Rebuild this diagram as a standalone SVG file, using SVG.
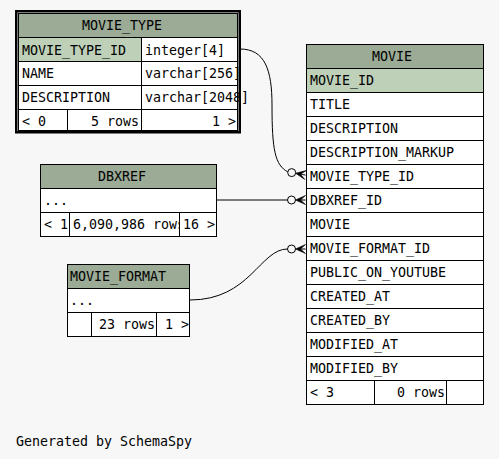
<svg xmlns="http://www.w3.org/2000/svg" width="499" height="459" viewBox="0 0 499 459">
<style>
text{font-family:"DejaVu Sans Mono","Liberation Mono",monospace;font-size:13.3px;fill:#000}
.c{fill:#fff;stroke:#000;stroke-width:1}
.h{fill:#9bab96;stroke:#000;stroke-width:1}
.k{fill:#bed1b8;stroke:#000;stroke-width:1}
.e{fill:none;stroke:#000;stroke-width:1}
.o{fill:none;stroke:#000;stroke-width:1}
.cr{fill:#000;stroke:#000;stroke-width:0.6;stroke-linejoin:miter}
.r{text-anchor:end}
</style>
<rect width="499" height="459" fill="#f7f7f7"/>
<g id="connectors">
<path class="e" d="M240,49 C265,49 272,70 272,105 C272,150 275,165 287.8,171.9"/>
<circle class="o" cx="291.7" cy="172.6" r="4"/>
<polygon class="cr" points="295.65,173.26 306.28,170.57 300.58,174.13 305.5,175 300.58,174.13 304.72,179.43"/>
<path class="e" d="M216.5,200 L287.5,200"/>
<circle class="o" cx="291.5" cy="200" r="4"/>
<polygon class="cr" points="295.5,200 305.5,195.5 300.5,200 305.5,200 300.5,200 305.5,204.5"/>
<path class="e" d="M190,300 C250,300 260,249 287.5,249"/>
<circle class="o" cx="291.5" cy="249" r="4"/>
<polygon class="cr" points="295.5,249 305.5,244.5 300.5,249 305.5,249 300.5,249 305.5,253.5"/>
</g>
<g id="movie_type">
<rect x="16.25" y="11.25" width="223.5" height="121" fill="none" stroke="#000" stroke-width="2.5"/>
<rect class="h" x="18.5" y="13.5" width="219" height="24"/>
<rect class="k" x="18.5" y="37.5" width="123" height="24"/>
<rect class="c" x="141.5" y="37.5" width="96" height="24"/>
<rect class="c" x="18.5" y="61.5" width="123" height="24"/>
<rect class="c" x="141.5" y="61.5" width="96" height="24"/>
<rect class="c" x="18.5" y="85.5" width="123" height="24"/>
<rect class="c" x="141.5" y="85.5" width="96" height="24"/>
<rect class="c" x="18.5" y="109.5" width="49" height="21"/>
<rect class="c" x="67.5" y="109.5" width="74" height="21"/>
<rect class="c" x="141.5" y="109.5" width="96" height="21"/>
<text x="82" y="30">MOVIE_TYPE</text>
<text x="22" y="54.5">MOVIE_TYPE_ID</text>
<text x="145" y="54.5">integer[4]</text>
<text x="22" y="78">NAME</text>
<text x="145" y="78">varchar[256]</text>
<text x="22" y="102">DESCRIPTION</text>
<text x="145" y="102">varchar[2048]</text>
<text x="22" y="126">&lt; 0</text>
<text class="r" x="139" y="126">5 rows</text>
<text class="r" x="236" y="126">1 &gt;</text>
</g>
<g id="dbxref">
<rect class="h" x="40.5" y="164.5" width="176" height="24"/>
<rect class="c" x="40.5" y="188.5" width="176" height="24"/>
<rect class="c" x="40.5" y="212.5" width="29" height="24"/>
<rect class="c" x="69.5" y="212.5" width="110" height="24"/>
<text x="98" y="181">DBXREF</text>
<text x="44" y="205">...</text>
<text x="44" y="229">&lt; 1</text>
<text x="73" y="229">6,090,986 rows</text>
<rect class="c" x="179.5" y="212.5" width="37" height="24"/>
<text x="183" y="229">16 &gt;</text>
</g>
<g id="movie_format">
<rect class="h" x="67.5" y="264.5" width="122" height="24"/>
<rect class="c" x="67.5" y="288.5" width="122" height="24"/>
<rect class="c" x="67.5" y="312.5" width="24" height="24"/>
<rect class="c" x="91.5" y="312.5" width="65" height="24"/>
<rect class="c" x="156.5" y="312.5" width="33" height="24"/>
<text x="70" y="281">MOVIE_FORMAT</text>
<text x="70" y="305">...</text>
<text x="99" y="329">23 rows</text>
<text x="165" y="329">1 &gt;</text>
</g>
<g id="movie">
<rect class="h" x="306.5" y="44.5" width="177" height="24"/>
<rect class="k" x="306.5" y="68.5" width="177" height="24"/>
<rect class="c" x="306.5" y="92.5" width="177" height="24"/>
<rect class="c" x="306.5" y="116.5" width="177" height="24"/>
<rect class="c" x="306.5" y="140.5" width="177" height="24"/>
<rect class="c" x="306.5" y="164.5" width="177" height="24"/>
<rect class="c" x="306.5" y="188.5" width="177" height="24"/>
<rect class="c" x="306.5" y="212.5" width="177" height="24"/>
<rect class="c" x="306.5" y="236.5" width="177" height="24"/>
<rect class="c" x="306.5" y="260.5" width="177" height="24"/>
<rect class="c" x="306.5" y="284.5" width="177" height="24"/>
<rect class="c" x="306.5" y="308.5" width="177" height="24"/>
<rect class="c" x="306.5" y="332.5" width="177" height="24"/>
<rect class="c" x="306.5" y="356.5" width="177" height="24"/>
<rect class="c" x="306.5" y="380.5" width="68" height="24"/>
<rect class="c" x="374.5" y="380.5" width="72" height="24"/>
<rect class="c" x="446.5" y="380.5" width="37" height="24"/>
<text x="372" y="61">MOVIE</text>
<text x="310" y="85">MOVIE_ID</text>
<text x="310" y="109">TITLE</text>
<text x="310" y="133">DESCRIPTION</text>
<text x="310" y="157">DESCRIPTION_MARKUP</text>
<text x="310" y="181">MOVIE_TYPE_ID</text>
<text x="310" y="205">DBXREF_ID</text>
<text x="310" y="229">MOVIE</text>
<text x="310" y="253">MOVIE_FORMAT_ID</text>
<text x="310" y="277">PUBLIC_ON_YOUTUBE</text>
<text x="310" y="301">CREATED_AT</text>
<text x="310" y="325">CREATED_BY</text>
<text x="310" y="349">MODIFIED_AT</text>
<text x="310" y="373">MODIFIED_BY</text>
<text x="310" y="397">&lt; 3</text>
<text class="r" x="445" y="397">0 rows</text>
</g>
<text x="16" y="446">Generated by SchemaSpy</text>
</svg>
